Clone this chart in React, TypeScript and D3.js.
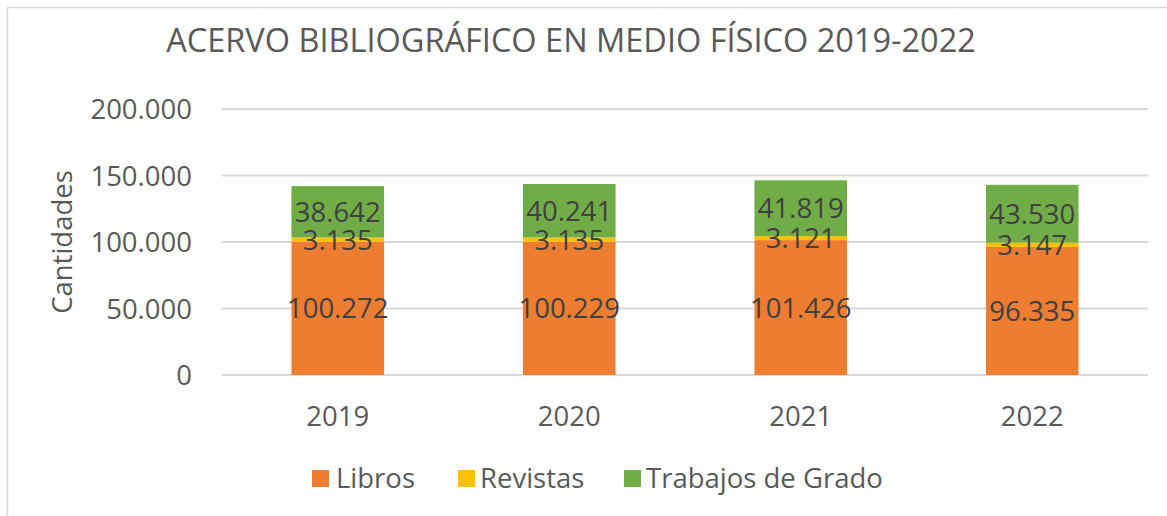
import React from "react";
import * as d3 from "d3";

const years = ["2019", "2020", "2021", "2022"];
const libros = [100272, 100229, 101426, 96335];
const revistas = [3135, 3135, 3121, 3147];
const trabajos = [38642, 40241, 41819, 43530];
const seriesNames = ["Libros", "Revistas", "Trabajos de Grado"];
const seriesColors = ["#ED7D31", "#FFC000", "#70AD47"];
const yTicks = [0, 50000, 100000, 150000, 200000];
const title = "ACERVO BIBLIOGRÁFICO EN MEDIO FÍSICO 2019-2022";
const yTitle = "Cantidades";

const W = 1167;
const H = 516;
const FONT = "'Open Sans', sans-serif";

const fmt = (v: number) => d3.format(",")(v).replace(/,/g, ".");

export default function App() {
  const plotLeft = 222;
  const plotRight = 1148;
  const plotTop = 109;
  const plotBottom = 375;

  const x = d3.scaleBand<string>().domain(years).range([plotLeft, plotRight]).paddingInner(0.6).paddingOuter(0.3);
  const y = d3.scaleLinear().domain([0, 200000]).range([plotBottom, plotTop]);

  const table = years.map((yr, i) => ({ year: yr, Libros: libros[i], Revistas: revistas[i], "Trabajos de Grado": trabajos[i] }));
  const stack = d3.stack<any>().keys(seriesNames)(table);

  const legendItems = [
    { name: seriesNames[0], sx: 312, tx: 336 },
    { name: seriesNames[1], sx: 458, tx: 480 },
    { name: seriesNames[2], sx: 624, tx: 646 },
  ];

  return (
    <svg width={W} height={H} style={{ position: "fixed", left: 0, top: 0, background: "#fff" }} fontFamily={FONT}>
      <rect x={0} y={0} width={W} height={H} fill="#fff" />
      <rect x={7.5} y={7.5} width={W + 20} height={H + 20} fill="none" stroke="#D9D9D9" strokeWidth={1.5} />
      <text x={571} y={52} textAnchor="middle" fontSize={32.5} fill="#595959">{title}</text>

      {yTicks.map((t) => (
        <g key={t}>
          <line x1={plotLeft} x2={plotRight} y1={y(t)} y2={y(t)} stroke="#D9D9D9" strokeWidth={2} />
          <text x={192} y={y(t) + 10} textAnchor="end" fontSize={27.5} fill="#595959">{fmt(t)}</text>
        </g>
      ))}

      <text transform={`translate(72,242) rotate(-90)`} textAnchor="middle" fontSize={27.5} fill="#595959">{yTitle}</text>

      {stack.map((s, si) => (
        <g key={s.key}>
          {s.map((d, i) => (
            <rect key={i} x={x(years[i])!} width={x.bandwidth()} y={y(d[1])} height={y(d[0]) - y(d[1])} fill={seriesColors[si]} />
          ))}
        </g>
      ))}
      {stack.map((s) => (
        <g key={s.key + "l"}>
          {s.map((d, i) => (
            <text key={i} x={x(years[i])! + x.bandwidth() / 2} y={y((d[0] + d[1]) / 2) + 10} textAnchor="middle" fontSize={27.5} fill="#404040">
              {fmt(d[1] - d[0])}
            </text>
          ))}
        </g>
      ))}

      {years.map((yr) => (
        <text key={yr} x={x(yr)! + x.bandwidth() / 2} y={426} textAnchor="middle" fontSize={27.5} fill="#595959">{yr}</text>
      ))}

      {legendItems.map((l, i) => (
        <g key={l.name}>
          <rect x={l.sx} y={470} width={17} height={17} fill={seriesColors[i]} />
          <text x={l.tx} y={488} fontSize={27.5} fill="#595959">{l.name}</text>
        </g>
      ))}
    </svg>
  );
}
